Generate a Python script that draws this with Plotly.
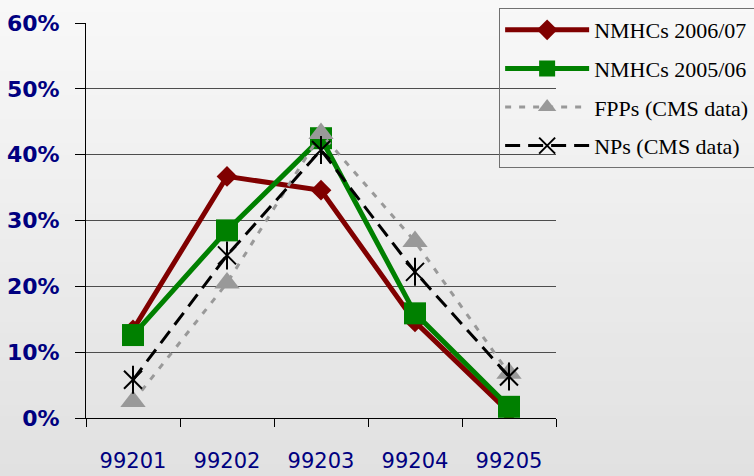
import plotly.graph_objects as go

categories = ["99201", "99202", "99203", "99204", "99205"]
nmhc_0607 = [0.134, 0.367, 0.346, 0.146, 0.009]
nmhc_0506 = [0.126, 0.285, 0.425, 0.159, 0.017]
fpps_cms = [0.025, 0.205, 0.432, 0.268, 0.068]
nps_cms = [0.058, 0.247, 0.407, 0.222, 0.063]
y_ticks = [0, 0.1, 0.2, 0.3, 0.4, 0.5, 0.6]
y_labels = ["0%", "10%", "20%", "30%", "40%", "50%", "60%"]

fig = go.Figure()

fig.add_trace(go.Scatter(
    x=categories, y=nmhc_0607, name="NMHCs 2006/07", mode="lines+markers",
    line=dict(color="#800000", width=5),
    marker=dict(symbol="diamond", size=16, color="#800000"),
    legendgroup="a"))
fig.add_trace(go.Scatter(
    x=categories, y=nmhc_0506, name="NMHCs 2005/06", mode="lines+markers",
    line=dict(color="#008000", width=5),
    marker=dict(symbol="square", size=22, color="#008000"),
    legendgroup="b"))
fig.add_trace(go.Scatter(
    x=categories, y=fpps_cms, name="FPPs (CMS data)", mode="lines+markers",
    line=dict(color="#999999", width=3, dash="6px,8px"),
    marker=dict(symbol="triangle-up", size=22, color="#999999"),
    legendgroup="c"))
fig.add_trace(go.Scatter(
    x=categories, y=nps_cms, name="NPs (CMS data)", mode="lines+markers",
    line=dict(color="#000000", width=3, dash="15px,8px"),
    marker=dict(symbol="x-thin-open", size=18, color="#000000",
                line=dict(width=2, color="#000000")),
    legendgroup="d"))
fig.add_trace(go.Scatter(
    x=categories, y=nps_cms, mode="markers", showlegend=False,
    marker=dict(symbol="line-ns-open", size=20, color="#000000",
                line=dict(width=2, color="#000000")),
    legendgroup="d", hoverinfo="skip"))

# vertical background gradient made of thin bands (paper coords)
n_bands = 40
top_c, bot_c = 248, 225
shapes = []
y0p = -58 / 395.3
y1p = 1 + 22.7 / 395.3
for i in range(n_bands):
    t = i / (n_bands - 1)
    c = round(bot_c + (top_c - bot_c) * t)
    ya = y0p + (y1p - y0p) * i / n_bands
    yb = y0p + (y1p - y0p) * (i + 1) / n_bands
    shapes.append(dict(type="rect", xref="paper", yref="paper",
                       x0=-0.3, x1=1.5, y0=ya, y1=yb + 0.002,
                       fillcolor=f"rgb({c},{c},{c})", line=dict(width=0),
                       layer="below"))

fig.update_layout(
    width=754, height=476,
    margin=dict(l=86, r=198, t=23, b=58, autoexpand=False),
    paper_bgcolor="#ececec",
    plot_bgcolor="rgba(0,0,0,0)",
    shapes=shapes,
    showlegend=True,
    legend=dict(
        x=0.879, y=1.038, xanchor="left", yanchor="top",
        bgcolor="rgba(0,0,0,0)", bordercolor="#707070", borderwidth=1,
        font=dict(family="Liberation Serif, Times New Roman, serif", size=22, color="#000000"),
        traceorder="grouped", tracegroupgap=7, itemwidth=84,
    ),
    xaxis=dict(
        type="category", range=[-0.5, 4.5], tickson="boundaries",
        ticks="outside", ticklen=8, tickcolor="#000000", tickwidth=1,
        showline=True, linecolor="#000000", linewidth=1,
        showgrid=False, zeroline=False,
        tickfont=dict(family="DejaVu Sans", size=21, color="#000080"),
        ticklabelstandoff=24,
    ),
    yaxis=dict(
        range=[0, 0.6], tickvals=y_ticks, ticktext=y_labels,
        ticks="outside", ticklen=10, tickcolor="#000000",
        showline=True, linecolor="#000000", linewidth=1,
        showgrid=True, gridcolor="#4d4d4d", gridwidth=1, zeroline=False,
        tickfont=dict(family="DejaVu Sans", size=22, color="#000080", weight="bold"),
        ticklabelstandoff=11,
    ),
)

fig.write_html("out.html", config={"displayModeBar": False},
               post_script="document.body.style.margin='0';")
